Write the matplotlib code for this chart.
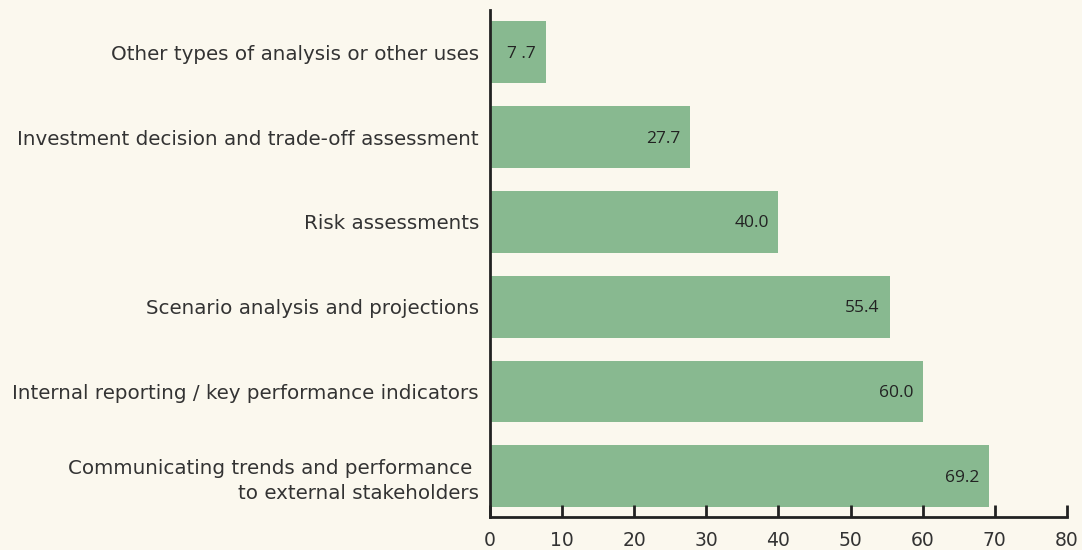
import matplotlib
matplotlib.use("Agg")
import matplotlib.pyplot as plt

categories = [
    "Communicating trends and performance \nto external stakeholders",
    "Internal reporting / key performance indicators",
    "Scenario analysis and projections",
    "Risk assessments",
    "Investment decision and trade-off assessment",
    "Other types of analysis or other uses",
]
values = [69.2, 60.0, 55.4, 40.0, 27.7, 7.7]
value_labels = ["69.2", "60.0", "55.4", "40.0", "27.7", "7 .7"]
xticks = [0, 10, 20, 30, 40, 50, 60, 70, 80]

bg = "#FBF8EE"
bar_color = "#88B990"
dark = "#222222"

fig = plt.figure(figsize=(10.82, 5.5), dpi=100, facecolor=bg)
ax = fig.add_axes([0.4529, 0.06, 0.5332, 0.9218], facecolor=bg)

y = list(range(len(categories)))
ax.barh(y, values, height=0.73, color=bar_color)

for yi, v, lab in zip(y, values, value_labels):
    ax.annotate(lab, (v, yi), xytext=(-7, -1), textcoords="offset points",
                ha="right", va="center", fontsize=12.5, color=dark,
                family="Open Sans")

ax.set_xlim(0, 80)
ax.set_ylim(-0.48, 5.5)
ax.set_yticks(y)
ax.set_yticklabels(categories, fontsize=14.3, color="#333333", family="DejaVu Sans",
                   linespacing=1.35)
ax.set_xticks(xticks)
ax.set_xticklabels([str(t) for t in xticks], fontsize=13.5, color="#333333", family="DejaVu Sans")

for s in ["top", "right"]:
    ax.spines[s].set_visible(False)
for s in ["left", "bottom"]:
    ax.spines[s].set_linewidth(2)
    ax.spines[s].set_color(dark)

ax.tick_params(axis="y", length=0, pad=8)
ax.tick_params(axis="x", direction="in", length=9, width=2, color=dark, pad=10)

fig.savefig("out.png", dpi=100, facecolor=bg)
